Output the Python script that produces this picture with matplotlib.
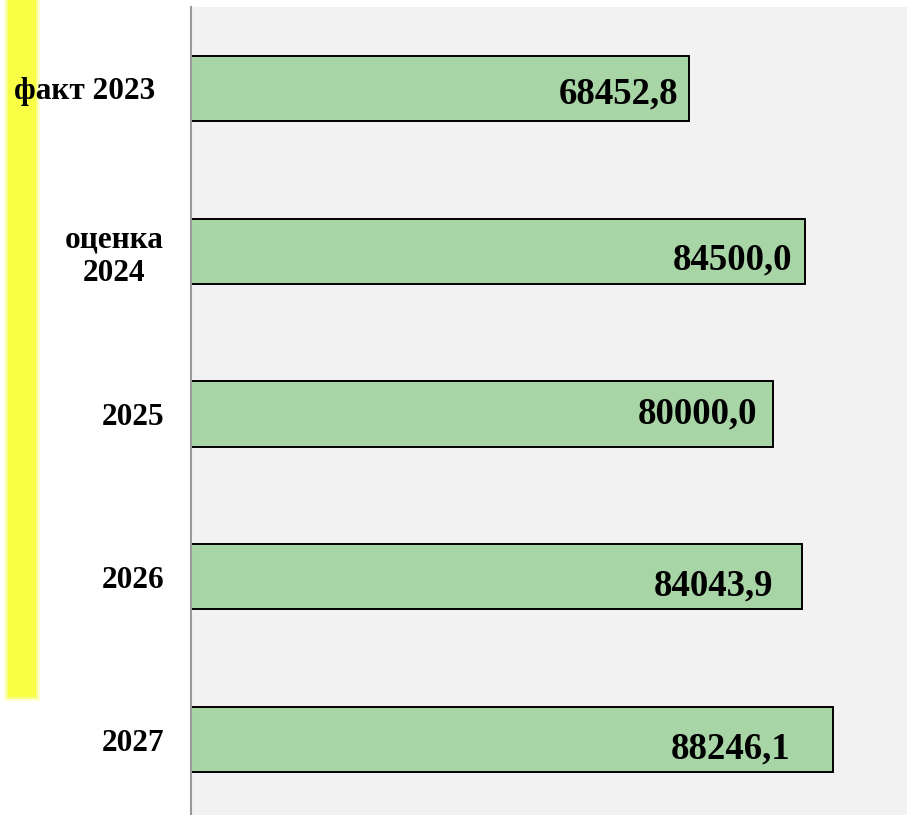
import matplotlib
matplotlib.use("Agg")
import matplotlib.pyplot as plt
import matplotlib.transforms as mtransforms
from matplotlib.patches import Rectangle

categories = ["факт 2023", "оценка\n2024", "2025", "2026", "2027"]
values = [68452.8, 84500.0, 80000.0, 84043.9, 88246.1]
value_labels = ["68452,8", "84500,0", "80000,0", "84043,9", "88246,1"]
label_dx = [-10, -13, -15, -29, -42]   # px inward from bar end
label_dy = [-6, -9, 0, -9, -9]         # px downward offset
cat_dx = [-9, 0, 0, 0, 0]              # px shift of category labels

W, H = 907, 815
fig = plt.figure(figsize=(W / 100, H / 100), dpi=100)
fig.patch.set_facecolor("white")

# yellow stripe with soft edges
for i, a in enumerate([0.25, 0.45, 1.0]):
    pad = (2 - i) * 2
    fig.patches.append(Rectangle(((8 - pad) / W, 1 - (697 + pad) / H),
                                 (28 + 2 * pad) / W, (697 + pad + 5) / H,
                                 transform=fig.transFigure, facecolor="#f8ff45",
                                 edgecolor="none", alpha=a, zorder=-5))

top_px, bottom_px = 7, 821
ax = fig.add_axes([191 / W, 1 - bottom_px / H, 1 - 191 / W, (bottom_px - top_px) / H])
ax.set_facecolor("#f2f2f2")
ax.set_zorder(1)

ypos = list(range(len(categories)))
ax.barh(ypos, values, height=0.4, color="#a8d5a6", edgecolor="black", linewidth=1.4, zorder=2)
ax.set_ylim(len(categories) - 0.5, -0.5)
ax.set_xlim(0, 715 / 0.007260)

for y, v, t, dx, dy in zip(ypos, values, value_labels, label_dx, label_dy):
    ax.annotate(t, (v, y), xytext=(dx * 0.72, dy * 0.72), textcoords="offset points",
                ha="right", va="center", fontsize=26.5, fontweight="bold",
                family="Liberation Serif", color="black", zorder=3)

ax.set_yticks(ypos)
ax.set_yticklabels(categories, fontsize=22.5, fontweight="bold", family="Liberation Serif")
ax.tick_params(axis="y", length=0, pad=19.5)
for lbl, dx in zip(ax.get_yticklabels(), cat_dx):
    lbl.set_multialignment("center")
    if dx:
        lbl.set_transform(lbl.get_transform() + mtransforms.ScaledTranslation(dx / 100, 0, fig.dpi_scale_trans))
ax.set_xticks([])
for s in ["top", "right", "bottom"]:
    ax.spines[s].set_visible(False)
ax.spines["left"].set_color("#9a9a9a")
ax.spines["left"].set_linewidth(1.5)

fig.savefig("out.png", dpi=100)
